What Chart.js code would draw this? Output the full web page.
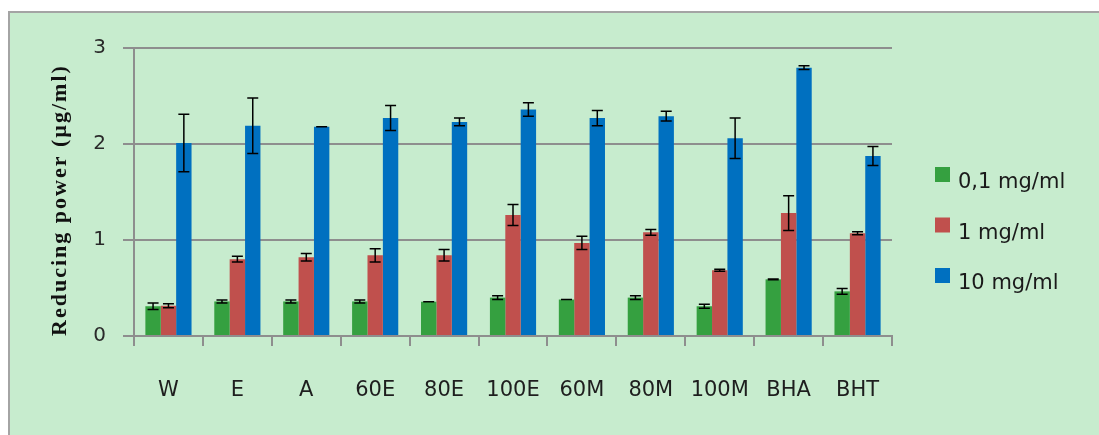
<!DOCTYPE html>
<html><head><meta charset="utf-8">
<script src="https://cdn.jsdelivr.net/npm/chart.js@4/dist/chart.umd.min.js"></script>
<style>html,body{margin:0;padding:0;background:#fff;overflow:hidden}canvas{display:block}</style>
</head><body><canvas id="c" width="1099" height="435"></canvas>
<script>
// Reducing power of the extracts and reference antioxidants
const categories = ['W','E','A','60E','80E','100E','60M','80M','100M','BHA','BHT'];
const seriesLabels = ['0,1 mg/ml','1 mg/ml','10 mg/ml'];
const low = [0.31,0.36,0.36,0.36,0.357,0.40,0.38,0.40,0.31,0.59,0.465];
const lowErr = [0.035,0.015,0.015,0.015,0,0.02,0,0.02,0.02,0.005,0.03];
const mid = [0.315,0.80,0.82,0.84,0.84,1.26,0.97,1.08,0.685,1.28,1.07];
const midErr = [0.02,0.03,0.04,0.07,0.06,0.11,0.07,0.03,0.01,0.18,0.015];
const high = [2.01,2.19,2.18,2.27,2.23,2.36,2.27,2.29,2.06,2.795,1.875];
const highErr = [0.3,0.29,0,0.13,0.04,0.07,0.08,0.05,0.21,0.02,0.1];
const yTicks = [0,1,2,3];
const yTitle = 'Reducing power (\u00b5g/ml)';

const colors = ['#35a040','#c0504d','#0070c0'];
const values = [low, mid, high];
const errors = [lowErr, midErr, highErr];

Chart.defaults.font.family = '"DejaVu Sans", Verdana, sans-serif';

const framePlugin = {
  id: 'frame',
  beforeDraw(chart) {
    const ctx = chart.ctx;
    ctx.save();
    ctx.fillStyle = '#ffffff';
    ctx.fillRect(0, 0, chart.width, chart.height);
    ctx.fillStyle = '#c7ecce';
    ctx.fillRect(8, 11, chart.width, chart.height);
    ctx.strokeStyle = '#a4a4a4';
    ctx.lineWidth = 2;
    ctx.beginPath();
    ctx.moveTo(9, chart.height + 2);
    ctx.lineTo(9, 12);
    ctx.lineTo(chart.width + 2, 12);
    ctx.stroke();
    ctx.restore();
  }
};

const errorBarPlugin = {
  id: 'errorBars',
  afterDatasetsDraw(chart) {
    const ctx = chart.ctx;
    const y = chart.scales.y;
    ctx.save();
    ctx.strokeStyle = '#000';
    ctx.lineWidth = 1.5;
    chart.data.datasets.forEach((ds, di) => {
      const meta = chart.getDatasetMeta(di);
      meta.data.forEach((bar, i) => {
        const v = ds.data[i], e = errors[di][i];
        const top = y.getPixelForValue(v + e);
        const bot = y.getPixelForValue(v - e);
        const half = 5.5;
        ctx.beginPath();
        ctx.moveTo(bar.x, top); ctx.lineTo(bar.x, bot);
        ctx.moveTo(bar.x - half, top); ctx.lineTo(bar.x + half, top);
        ctx.moveTo(bar.x - half, bot); ctx.lineTo(bar.x + half, bot);
        ctx.stroke();
      });
    });
    ctx.restore();
  }
};

const labelsPlugin = {
  id: 'sideLabels',
  afterDraw(chart) {
    const ctx = chart.ctx;
    ctx.save();
    // vertical axis title
    ctx.translate(60, 200);
    ctx.rotate(-Math.PI / 2);
    ctx.font = 'bold 22px "Liberation Serif", "Times New Roman", serif';
    if ('letterSpacing' in ctx) ctx.letterSpacing = '2px';
    ctx.fillStyle = '#111';
    ctx.textAlign = 'center';
    ctx.textBaseline = 'middle';
    ctx.fillText(yTitle, 0, 0);
    ctx.restore();

    // legend
    ctx.save();
    ctx.font = '21px "DejaVu Sans", Verdana, sans-serif';
    ctx.textBaseline = 'alphabetic';
    ctx.textAlign = 'left';
    chart.data.datasets.forEach((ds, i) => {
      const by = 167 + 50.5 * i;
      ctx.fillStyle = ds.backgroundColor;
      ctx.fillRect(935, by, 15, 15);
      ctx.fillStyle = '#1a1a1a';
      ctx.fillText(ds.label, 958, by + 21);
    });
    ctx.restore();
  }
};

new Chart(document.getElementById('c'), {
  type: 'bar',
  data: {
    labels: categories,
    datasets: seriesLabels.map((label, i) => ({
      label,
      data: values[i],
      backgroundColor: colors[i],
      borderWidth: 0,
      categoryPercentage: 0.67,
      barPercentage: 1.0
    }))
  },
  options: {
    responsive: false,
    animation: false,
    devicePixelRatio: 1,
    layout: { padding: { left: 0, top: 48, right: 207, bottom: 0 } },
    plugins: { legend: { display: false }, tooltip: { enabled: false } },
    scales: {
      x: {
        grid: { display: true, drawOnChartArea: false, offset: true, tickLength: 10, color: '#8e8e8e', lineWidth: 2 },
        border: { display: true, color: '#8e8e8e', width: 2 },
        ticks: { color: '#1e1e1e', font: { size: 21 }, padding: 32, maxRotation: 0, autoSkip: false },
        afterFit(scale) { scale.height = 99; }
      },
      y: {
        min: 0, max: 3,
        afterBuildTicks(scale) { scale.ticks = yTicks.map(v => ({ value: v })); },
        grid: { color: '#8e8e8e', lineWidth: 2, tickLength: 11 },
        border: { display: true, color: '#8e8e8e', width: 2 },
        ticks: { color: '#2a2a2a', font: { size: 20 }, padding: 17 },
        afterFit(scale) { scale.width = 134; }
      }
    }
  },
  plugins: [framePlugin, errorBarPlugin, labelsPlugin]
});
</script>
</body></html>
